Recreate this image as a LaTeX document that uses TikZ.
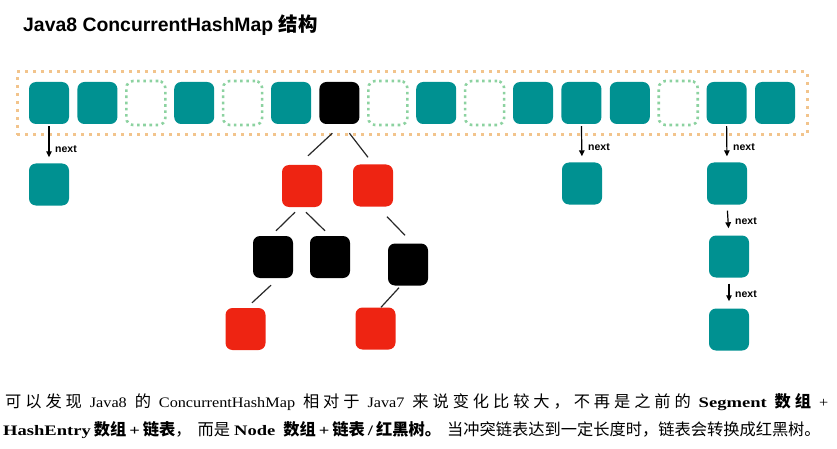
\documentclass[tikz,border=0pt]{standalone}
\usepackage{fontspec}
\setmainfont{Liberation Serif}[FakeStretch=1.12,BoldFeatures={FakeStretch=1.28}]
\newfontfamily\cjk{Noto Sans CJK SC}[Scale=1.12]
\newfontfamily\cjkt{Noto Sans CJK SC}
\newfontfamily\sansf{Liberation Sans}
\usetikzlibrary{calc,arrows.meta}
\definecolor{tealc}{RGB}{0,145,145}
\definecolor{redc}{RGB}{238,36,18}
\definecolor{greend}{RGB}{140,210,160}
\definecolor{oranged}{RGB}{242,196,140}
\definecolor{edgec}{RGB}{40,40,40}
\newcommand\zh[1]{{\cjk #1}}
\newcommand\zgap{\hskip 0pt plus 1fil}
\newcommand\zsp{\hskip 4pt plus 1fil}
\makeatletter
\newcommand\zg[1]{{\cjk\let\zgsep\relax\@tfor\zgc:=#1\do{\zgsep\zgc\let\zgsep\zgap}}}
\makeatother
\begin{document}
\begin{tikzpicture}[x=1pt,y=-1pt,
  box/.style={rectangle,rounded corners=7pt,minimum width=40pt,minimum height=42pt,inner sep=0pt},
  cellT/.style={box,fill=tealc},
  cellB/.style={box,fill=black},
  cellR/.style={box,fill=redc},
  cellD/.style={box,draw=greend,line width=2.6pt,dash pattern=on 2.6pt off 3.6pt,minimum width=39pt,minimum height=44pt},
  nextarr/.style={draw=black,line width=1.2pt,-{Triangle[length=6pt,width=5.5pt]}},
  treeedge/.style={draw=edgec,line width=1.2pt},
  nextlbl/.style={anchor=west,inner sep=0pt,font=\sansf\bfseries\fontsize{10.5}{12}\selectfont},
  body/.style={anchor=base west,inner sep=0pt,font=\fontsize{14.5}{16}\selectfont}]
\useasboundingbox (0,0) rectangle (837,449);

% title
\node[anchor=base west,inner sep=0pt,font=\sansf\bfseries\fontsize{19.4}{21}\selectfont] (title) at (23,32) {Java8 ConcurrentHashMap {\cjkt 结构}};

% outer array
\node[draw=oranged,line width=3pt,dash pattern=on 3pt off 5pt,minimum width=790pt,minimum height=63pt,inner sep=0pt] (arr) at (412,103.5) {};

% cells
\foreach \t [count=\i] in {T,T,D,T,D,T,B,D,T,D,T,T,T,D,T,T}
  \node[cell\t] (c\i) at ({49+48.4*(\i-1)},103) {};

% linked lists
\node[cellT] (l1) at (49,184.5) {};
\node[cellT] (l12) at (582,183.5) {};
\node[cellT] (l15a) at (727,183.5) {};
\node[cellT] (l15b) at (729,256.5) {};
\node[cellT] (l15c) at (729,329.5) {};

\draw[nextarr,shorten <=2pt,shorten >=6pt] (c1.south) -- (l1.north);
\draw[nextarr,shorten <=2pt,shorten >=6pt] (c12.south) -- (l12.north);
\draw[nextarr,shorten <=2pt,shorten >=6pt] (c15.south) -- (l15a.north);
\draw[nextarr,shorten <=6pt,shorten >=7pt] (l15a.south) -- (l15b.north);
\draw[nextarr,shorten <=6pt,shorten >=7pt] (l15b.south) -- (l15c.north);

\node[nextlbl] (t1) at (55,149) {next};
\node[nextlbl] (t12) at (588,147) {next};
\node[nextlbl] (t15) at (733,147) {next};
\node[nextlbl] (t15b) at (735,221) {next};
\node[nextlbl] (t15c) at (735,294) {next};

% red-black tree
\node[cellR] (r1) at (302,186) {};
\node[cellR] (r2) at (373,185.5) {};
\node[cellB] (ba) at (273,257) {};
\node[cellB] (bb) at (330,257) {};
\node[cellB] (bc) at (408,264.5) {};
\node[cellR] (r3) at (245.5,329) {};
\node[cellR] (r4) at (375.5,328.5) {};

\draw[treeedge] ($(c7.south)+(-7,9)$) -- ($(r1.north)+(6,-9)$);
\draw[treeedge] ($(c7.south)+(10,9)$) -- ($(r2.north)+(-5,-7)$);
\draw[treeedge] ($(r1.south)+(-7,5)$) -- ($(ba.north)+(3,-5)$);
\draw[treeedge] ($(r1.south)+(4,5)$) -- ($(bb.north)+(-5,-5)$);
\draw[treeedge] ($(r2.south)+(14,10)$) -- ($(bc.north)+(-3,-8)$);
\draw[treeedge] ($(ba.south)+(-2,7)$) -- ($(r3.north)+(6.5,-5)$);
\draw[treeedge] ($(bc.south)+(-9,2)$) -- ($(r4.north)+(5.5,0)$);

% text
\node[body] (line1) at (5,407) {\makebox[823pt][s]{\zg{可以发现}\zsp Java8\zsp\zg{的}\zsp ConcurrentHashMap\zsp\zg{相对于}\zsp Java7\zsp\zg{来说变化比较大，不再是之前的}\zsp\textbf{Segment}\zsp\textbf{\zg{数组}}\zsp+}};
\node[body] (line2) at (3,435) {\textbf{HashEntry}\hspace{3pt}\textbf{\zh{数组}}\hspace{3pt}\textbf{+}\hspace{3pt}\textbf{\zh{链表}}\zh{，}\hspace{6pt}\zh{而是}\hspace{4pt}\textbf{Node}\hspace{8pt}\textbf{\zh{数组}}\hspace{3pt}\textbf{+}\hspace{3pt}\textbf{\zh{链表}}\hspace{3pt}\textbf{/}\hspace{3pt}\textbf{\zh{红黑树。}}\hspace{6pt}\zh{当冲突链表达到一定长度时，链表会转换成红黑树。}};
\end{tikzpicture}
\end{document}
